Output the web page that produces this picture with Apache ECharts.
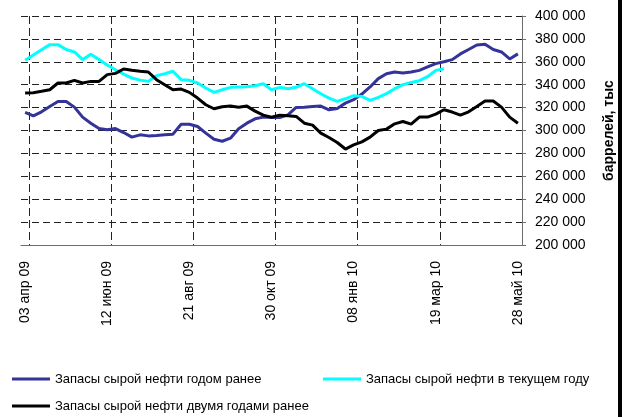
<!DOCTYPE html>
<html>
<head>
<meta charset="utf-8">
<script src="https://cdn.jsdelivr.net/npm/echarts@6/dist/echarts.min.js"></script>
<style>
  html, body { margin: 0; padding: 0; background: #fff; }
  #chart { width: 632px; height: 417px; }
</style>
</head>
<body>
<div id="chart"></div>
<script>
// weekly dates, one label every 10 weeks
var weeks = [
	'03 апр 09', '10 апр 09', '17 апр 09', '24 апр 09', '01 май 09', '08 май 09', '15 май 09', '22 май 09', '29 май 09', '05 июн 09',
	'12 июн 09', '19 июн 09', '26 июн 09', '03 июл 09', '10 июл 09', '17 июл 09', '24 июл 09', '31 июл 09', '07 авг 09', '14 авг 09',
	'21 авг 09', '28 авг 09', '04 сен 09', '11 сен 09', '18 сен 09', '25 сен 09', '02 окт 09', '09 окт 09', '16 окт 09', '23 окт 09',
	'30 окт 09', '06 ноя 09', '13 ноя 09', '20 ноя 09', '27 ноя 09', '04 дек 09', '11 дек 09', '18 дек 09', '25 дек 09', '01 янв 10',
	'08 янв 10', '15 янв 10', '22 янв 10', '29 янв 10', '05 фев 10', '12 фев 10', '19 фев 10', '26 фев 10', '05 мар 10', '12 мар 10',
	'19 мар 10', '26 мар 10', '02 апр 10', '09 апр 10', '16 апр 10', '23 апр 10', '30 апр 10', '07 май 10', '14 май 10', '21 май 10',
	'28 май 10'
];

// запасы годом ранее
var yearAgo = [
	315800, 312800, 316300, 321000, 325400, 325400, 320400, 311700, 306400, 301700,
	300600, 301700, 298200, 294200, 296200, 295300, 295600, 296200, 296800, 305500,
	305500, 303500, 297700, 292400, 290600, 293300, 301500, 306400, 310200, 311700,
	311400, 311400, 313700, 320100, 320400, 321000, 321300, 318100, 319300, 323900,
	326900, 331800, 338000, 345300, 349600, 351100, 350200, 351100, 352500, 355500,
	358400, 360100, 361900, 366900, 370700, 374700, 375300, 370700, 368600, 362500,
	366900
];

// запасы в текущем году (ряд обрывается)
var currentYear = [
	361300, 366000, 370600, 375000, 375000, 370700, 368600, 361900, 366600, 361900,
	357200, 353100, 349300, 345800, 344000, 342900, 347900, 349600, 351700, 344400,
	343800, 341500, 337100, 333300, 335600, 337700, 338000, 338200, 339100, 340800,
	335600, 337700, 336500, 337700, 340900, 336500, 332100, 328300, 325400, 327700,
	330400, 329800, 326300, 328900, 332200, 336500, 340000, 342000, 343500, 347000,
	352500, 354000
];

// запасы двумя годами ранее
var twoYearsAgo = [
	332700, 333000, 334200, 335600, 341500, 341500, 343800, 341500, 342900, 342900,
	348800, 349900, 353700, 352600, 351700, 351100, 344400, 340000, 335600, 336200,
	333300, 328300, 322500, 319000, 320700, 321300, 320400, 321300, 316900, 313400,
	311600, 313400, 312800, 312300, 306400, 304700, 297700, 293900, 289500, 283800,
	287400, 290100, 294200, 300000, 301200, 305800, 307900, 305500, 311700, 311700,
	314300, 318100, 316100, 313400, 316300, 321000, 325700, 325700, 320400, 311700,
	306400
];

var seriesNames = [
	'Запасы сырой нефти годом ранее',
	'Запасы сырой нефти в текущем году',
	'Запасы сырой нефти двумя годами ранее'
];

var FONT = '"Liberation Sans", Arial, sans-serif';

function fmtThousands(v) {
	return String(v).replace(/\B(?=(\d{3})+(?!\d))/g, ' ');
}

function lineSeries(name, data, color) {
	return {
		name: name,
		type: 'line',
		data: data,
		symbol: 'none',
		lineStyle: { color: color, width: 3 },
		itemStyle: { color: color },
		connectNulls: false
	};
}

function legendItem(name, left, top) {
	return {
		data: [name],
		left: left,
		top: top,
		padding: 0,
		icon: 'rect',
		itemWidth: 38,
		itemHeight: 3,
		textStyle: { fontFamily: FONT, fontSize: 13, color: '#000', lineHeight: 16 }
	};
}

var chart = echarts.init(document.getElementById('chart'), null, { renderer: 'canvas' });

chart.setOption({
	animation: false,
	backgroundColor: '#fff',
	grid: { left: 21, right: 110, top: 16, height: 229 },
	legend: [
		legendItem(seriesNames[0], 12, 371),
		legendItem(seriesNames[1], 323, 371),
		legendItem(seriesNames[2], 12, 398)
	],
	xAxis: {
		type: 'category',
		data: weeks,
		boundaryGap: true,
		axisLine: { lineStyle: { color: '#6e6e6e', width: 1 } },
		axisTick: {
			length: 5,
			interval: function (idx) { return idx % 10 === 1; },
			lineStyle: { color: '#6e6e6e' }
		},
		splitLine: {
			show: true,
			interval: function (idx) { return idx % 10 === 1; },
			lineStyle: { color: '#222', type: [8, 4], width: 1 }
		},
		axisLabel: {
			interval: function (idx) { return idx % 10 === 0; },
			rotate: 90,
			margin: 16,
			fontFamily: FONT,
			fontSize: 14,
			color: '#000'
		}
	},
	yAxis: {
		type: 'value',
		position: 'right',
		min: 200000,
		max: 400000,
		interval: 20000,
		name: 'баррелей, тыс',
		nameLocation: 'middle',
		nameRotate: 90,
		nameGap: 80,
		nameTextStyle: { fontFamily: FONT, fontSize: 14, fontWeight: 'bold', color: '#000' },
		axisLine: { show: true, lineStyle: { color: '#6e6e6e', width: 1 } },
		axisTick: { show: true, length: 4, lineStyle: { color: '#6e6e6e' } },
		splitLine: { show: true, lineStyle: { color: '#222', type: [7, 4], width: 1 } },
		axisLabel: {
			margin: 13,
			fontFamily: FONT,
			fontSize: 14,
			color: '#000',
			formatter: fmtThousands
		}
	},
	graphic: [{
		type: 'rect',
		left: 618,
		top: 0,
		shape: { width: 4, height: 417 },
		style: { fill: '#000' },
		silent: true
	}],
	series: [
		lineSeries(seriesNames[0], yearAgo, '#333399'),
		lineSeries(seriesNames[1], currentYear, '#00ffff'),
		lineSeries(seriesNames[2], twoYearsAgo, '#000000')
	]
});
</script>
</body>
</html>
